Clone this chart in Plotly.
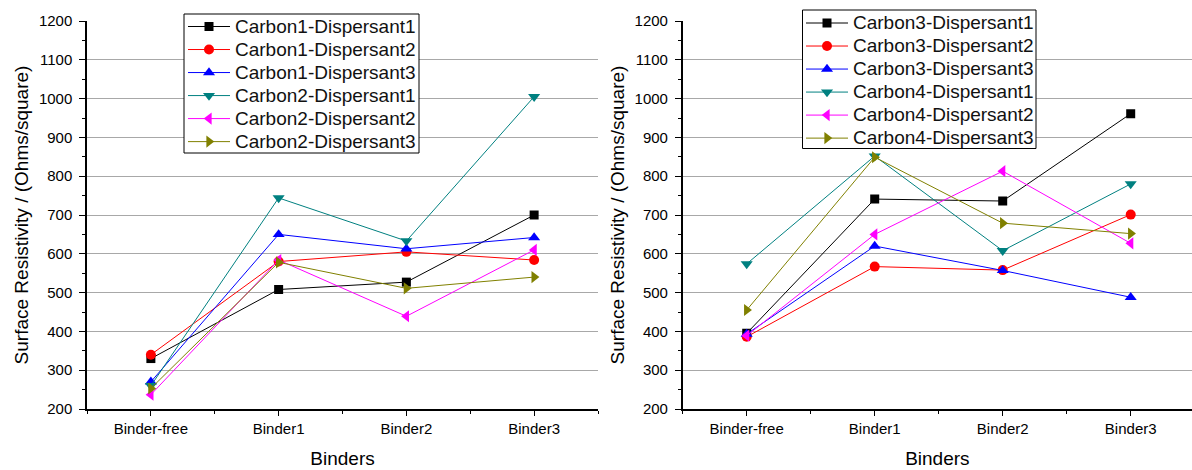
import plotly.graph_objects as go

binders = ["Binder-free", "Binder1", "Binder2", "Binder3"]
xpos = [1, 2, 3, 4]

left_names = ["Carbon1-Dispersant1", "Carbon1-Dispersant2", "Carbon1-Dispersant3",
              "Carbon2-Dispersant1", "Carbon2-Dispersant2", "Carbon2-Dispersant3"]
c1_d1 = [330, 508, 527, 700]
c1_d2 = [340, 580, 605, 584]
c1_d3 = [270, 650, 613, 642]
c2_d1 = [260, 744, 633, 1005]
c2_d2 = [237, 584, 439, 610]
c2_d3 = [253, 578, 511, 540]

right_names = ["Carbon3-Dispersant1", "Carbon3-Dispersant2", "Carbon3-Dispersant3",
               "Carbon4-Dispersant1", "Carbon4-Dispersant2", "Carbon4-Dispersant3"]
c3_d1 = [395, 741, 736, 961]
c3_d2 = [386, 567, 558, 701]
c3_d3 = [393, 620, 557, 488]
c4_d1 = [574, 852, 608, 780]
c4_d2 = [389, 650, 813, 627]
c4_d3 = [455, 849, 679, 652]

colors = ["#000000", "#ff0000", "#0000ff", "#008080", "#ff00ff", "#808000"]
symbols = ["square", "circle", "triangle-up", "triangle-down", "triangle-left", "triangle-right"]
sizes = [9, 10, 10.5, 10.5, 10.5, 10.5]

FONT = "Arial, 'Liberation Sans', sans-serif"
LEG_TXT = 19

fig = go.Figure()

left_series = [c1_d1, c1_d2, c1_d3, c2_d1, c2_d2, c2_d3]
right_series = [c3_d1, c3_d2, c3_d3, c4_d1, c4_d2, c4_d3]

def lab(nm):
    return '<span style="font-size:%dpx">%s</span>' % (LEG_TXT, nm)

for i, (nm, ys) in enumerate(zip(left_names, left_series)):
    fig.add_trace(go.Scatter(
        x=xpos, y=ys, name=lab(nm), mode="lines+markers",
        line=dict(color=colors[i], width=1),
        marker=dict(symbol=symbols[i], color=colors[i], size=sizes[i], line=dict(width=0)),
        xaxis="x", yaxis="y", legend="legend"))

for i, (nm, ys) in enumerate(zip(right_names, right_series)):
    fig.add_trace(go.Scatter(
        x=xpos, y=ys, name=lab(nm), mode="lines+markers",
        line=dict(color=colors[i], width=1),
        marker=dict(symbol=symbols[i], color=colors[i], size=sizes[i], line=dict(width=0)),
        xaxis="x2", yaxis="y2", legend="legend2"))

W, H = 1192, 470
ml, mr, mt, mb = 87, 0, 21, 61
pw = W - ml - mr
ph = H - mt - mb
x1_end = (598 - ml) / pw
x2_start = (682.7 - ml) / pw

def px_x(p):
    return (p - ml) / pw

def px_y(p):
    return (mt + ph - p) / ph

def xaxis_cfg(domain, rng, anchor):
    return dict(
        domain=domain, range=rng, anchor=anchor, automargin=False,
        tickmode="array", tickvals=xpos, ticktext=binders,
        showline=True, linecolor="black", linewidth=1.5,
        ticks="outside", ticklen=5, tickwidth=1, tickcolor="black",
        minor=dict(tickvals=[0.5, 1.5, 2.5, 3.5, 4.5], ticks="outside", ticklen=3,
                   tickwidth=1, tickcolor="black", showgrid=False),
        showgrid=False, zeroline=False,
        tickfont=dict(family=FONT, size=15, color="black"),
        title=dict(text="Binders", font=dict(family=FONT, size=19, color="black"), standoff=16),
    )

def yaxis_cfg(anchor):
    return dict(
        range=[200, 1200], anchor=anchor, dtick=100, tick0=200, automargin=False,
        showline=True, linecolor="black", linewidth=1.5,
        ticks="outside", ticklen=6, tickwidth=1, tickcolor="black",
        minor=dict(dtick=50, tick0=200, ticks="outside", ticklen=3, tickwidth=1,
                   tickcolor="black", showgrid=False),
        showgrid=True, gridcolor="#a8a8a8", gridwidth=1, zeroline=False,
        tickfont=dict(family=FONT, size=15, color="black"),
        ticklabelstandoff=4,
        title=dict(text="Surface Resistivity / (Ohms/square)",
                   font=dict(family=FONT, size=19, color="black"), standoff=5),
    )

legend_common = dict(
    bgcolor="rgba(0,0,0,0)", borderwidth=0,
    font=dict(family=FONT, size=15.4, color="#111111"),
    xanchor="left", yanchor="top", tracegroupgap=0, itemwidth=42,
)

# legend frames (white boxes with black border), drawn above the traces
frames = [(184, 14, 419, 153), (802.5, 10, 1036, 148.5)]
shapes = [dict(type="rect", xref="paper", yref="paper", layer="above",
               x0=px_x(a), x1=px_x(c), y0=px_y(d), y1=px_y(b),
               fillcolor="white", line=dict(color="black", width=1))
          for a, b, c, d in frames]

fig.update_layout(
    width=W, height=H,
    margin=dict(l=ml, r=mr, t=mt, b=mb, autoexpand=False),
    paper_bgcolor="white", plot_bgcolor="white",
    font=dict(family=FONT, color="black"),
    xaxis=xaxis_cfg([0, x1_end], [0.5, 4.5], "y"),
    yaxis=yaxis_cfg("x"),
    xaxis2=xaxis_cfg([x2_start, 1.0], [0.5, 4.5 - 2.7 / 128], "y2"),
    yaxis2=yaxis_cfg("x2"),
    legend=dict(x=px_x(183), y=px_y(10), **legend_common),
    legend2=dict(x=px_x(801), y=px_y(6.5), **legend_common),
    shapes=shapes,
    showlegend=True,
)

fig.write_html("out.html", config={"displayModeBar": False},
               post_script="document.body.style.margin='0';document.body.style.overflow='hidden';")
